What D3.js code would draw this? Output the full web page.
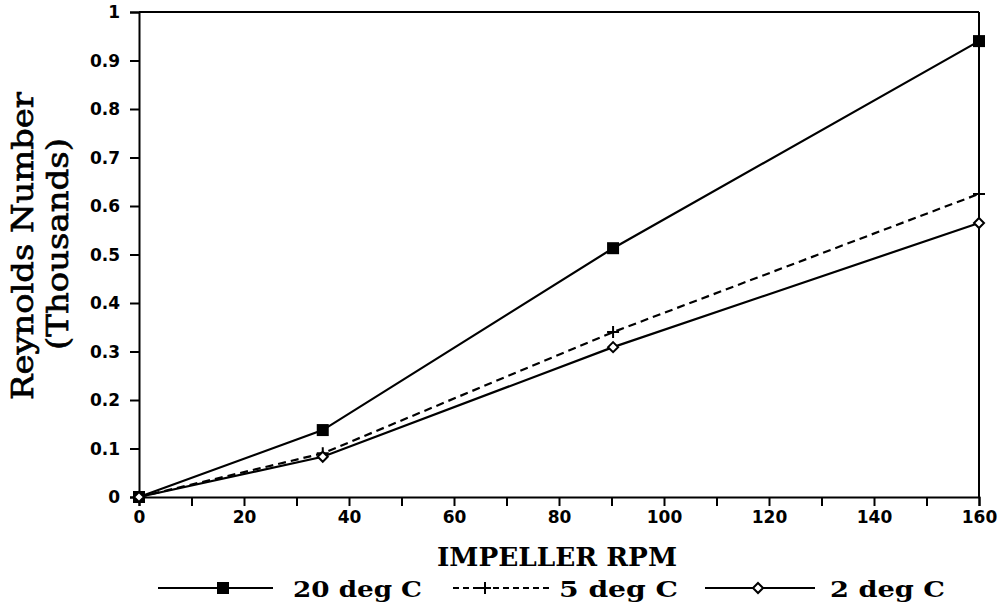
<!DOCTYPE html>
<html><head><meta charset="utf-8">
<script src="https://cdn.jsdelivr.net/npm/d3@7"></script>
<style>body{margin:0;background:#fff}svg{display:block}</style>
</head><body>
<svg id="c" width="999" height="611"></svg>
<script>
const rpm = [0, 35, 90.3, 160];
const re20 = [0, 0.138, 0.513, 0.94];
const re5 = [0, 0.09, 0.34, 0.625];
const re2 = [0, 0.083, 0.309, 0.565];
const seriesNames = ["20 deg C", "5 deg C", "2 deg C"];
const xTicks = [0, 20, 40, 60, 80, 100, 120, 140, 160];
const xMinor = [10, 30, 50, 70, 90, 110, 130, 150];
const yTicks = [0, 0.1, 0.2, 0.3, 0.4, 0.5, 0.6, 0.7, 0.8, 0.9, 1];
const yTickLabels = ["0", "0.1", "0.2", "0.3", "0.4", "0.5", "0.6", "0.7", "0.8", "0.9", "1"];

const svg = d3.select("#c");
const x = d3.scaleLinear().domain([0, 160]).range([139, 979]);
const y = d3.scaleLinear().domain([0, 1]).range([497, 12]);
const serif = "'DejaVu Serif', 'Liberation Serif', serif";
const sans = "'DejaVu Sans', 'Liberation Sans', sans-serif";

// frame
svg.append("line").attr("x1", x(0)).attr("x2", x(160)).attr("y1", y(1)).attr("y2", y(1)).attr("stroke", "#000").attr("stroke-width", 2);
svg.append("line").attr("x1", x(160)).attr("x2", x(160)).attr("y1", y(0)).attr("y2", y(1)).attr("stroke", "#000").attr("stroke-width", 2);

// x axis
const xa = svg.append("g").attr("transform", `translate(0,${y(0)})`)
  .call(d3.axisBottom(x).tickValues(xTicks).tickSize(9).tickPadding(5).tickFormat(d3.format("d")));
const xm = svg.append("g").attr("transform", `translate(0,${y(0)})`)
  .call(d3.axisBottom(x).tickValues(xMinor).tickSize(9).tickFormat(""));
xm.select(".domain").remove();
// y axis
const ya = svg.append("g").attr("transform", `translate(${x(0)},0)`)
  .call(d3.axisLeft(y).tickValues(yTicks).tickSize(9).tickPadding(10).tickFormat((d, i) => yTickLabels[i]));
[xa, xm, ya].forEach(g => {
  g.selectAll("path,line").attr("stroke", "#000").attr("stroke-width", 2);
  g.selectAll("text").attr("fill", "#000").attr("font-family", sans).attr("font-weight", "bold").attr("font-size", 17);
});
ya.selectAll("text").attr("dy", "0.35em");

// lines
const line = d3.line().x(d => x(d[0])).y(d => y(d[1]));
const data = [
  {vals: re20, dash: null, marker: "square"},
  {vals: re5, dash: "8,5", marker: "plus"},
  {vals: re2, dash: null, marker: "diamond"}
];
function drawMarker(g, type, cx, cy) {
  if (type === "square") {
    g.append("rect").attr("x", cx - 6).attr("y", cy - 6).attr("width", 12).attr("height", 12).attr("fill", "#000");
  } else if (type === "plus") {
    g.append("path").attr("d", `M${cx-6},${cy}H${cx+6}M${cx},${cy-6}V${cy+6}`).attr("stroke", "#000").attr("stroke-width", 2);
  } else {
    g.append("path").attr("d", `M${cx},${cy-5}L${cx+5},${cy}L${cx},${cy+5}L${cx-5},${cy}Z`).attr("fill", "#fff").attr("stroke", "#000").attr("stroke-width", 2);
  }
}
data.forEach(s => {
  const pts = rpm.map((r, i) => [r, s.vals[i]]);
  svg.append("path").attr("d", line(pts)).attr("fill", "none").attr("stroke", "#000").attr("stroke-width", 2.2)
    .attr("stroke-dasharray", s.dash);
  const g = svg.append("g");
  pts.forEach(p => drawMarker(g, s.marker, x(p[0]), y(p[1])));
});

// axis titles
svg.append("text").attr("x", 557).attr("y", 566).attr("text-anchor", "middle")
  .attr("font-family", serif).attr("font-weight", "bold").attr("font-size", 26)
  .attr("textLength", 240).attr("lengthAdjust", "spacingAndGlyphs").text("IMPELLER RPM");
svg.append("text").attr("transform", "translate(33,246) rotate(-90)").attr("text-anchor", "middle")
  .attr("font-family", serif).attr("font-size", 30).attr("stroke", "#000").attr("stroke-width", 0.7)
  .attr("textLength", 308).attr("lengthAdjust", "spacingAndGlyphs").text("Reynolds Number");
svg.append("text").attr("transform", "translate(68,244) rotate(-90)").attr("text-anchor", "middle")
  .attr("font-family", serif).attr("font-size", 30).attr("stroke", "#000").attr("stroke-width", 0.7)
  .attr("textLength", 212).attr("lengthAdjust", "spacingAndGlyphs").text("(Thousands)");

// legend
const leg = [
  {x1: 158, x2: 273, mx: 223, tx: 293, tl: 129, dash: null, marker: "square"},
  {x1: 453, x2: 553, mx: 485, tx: 559, tl: 119, dash: "6,4", marker: "plus"},
  {x1: 705, x2: 815, mx: 758, tx: 830, tl: 115, dash: null, marker: "diamond"}
];
leg.forEach((l, i) => {
  const g = svg.append("g");
  g.append("line").attr("x1", l.x1).attr("x2", l.x2).attr("y1", 588).attr("y2", 588)
    .attr("stroke", "#000").attr("stroke-width", 2).attr("stroke-dasharray", l.dash);
  drawMarker(g, l.marker, l.mx, 588);
  g.append("text").attr("x", l.tx).attr("y", 597).attr("font-family", serif).attr("font-weight", "bold")
    .attr("font-size", 23).attr("textLength", l.tl).attr("lengthAdjust", "spacingAndGlyphs").text(seriesNames[i]);
});
</script>
</body></html>
